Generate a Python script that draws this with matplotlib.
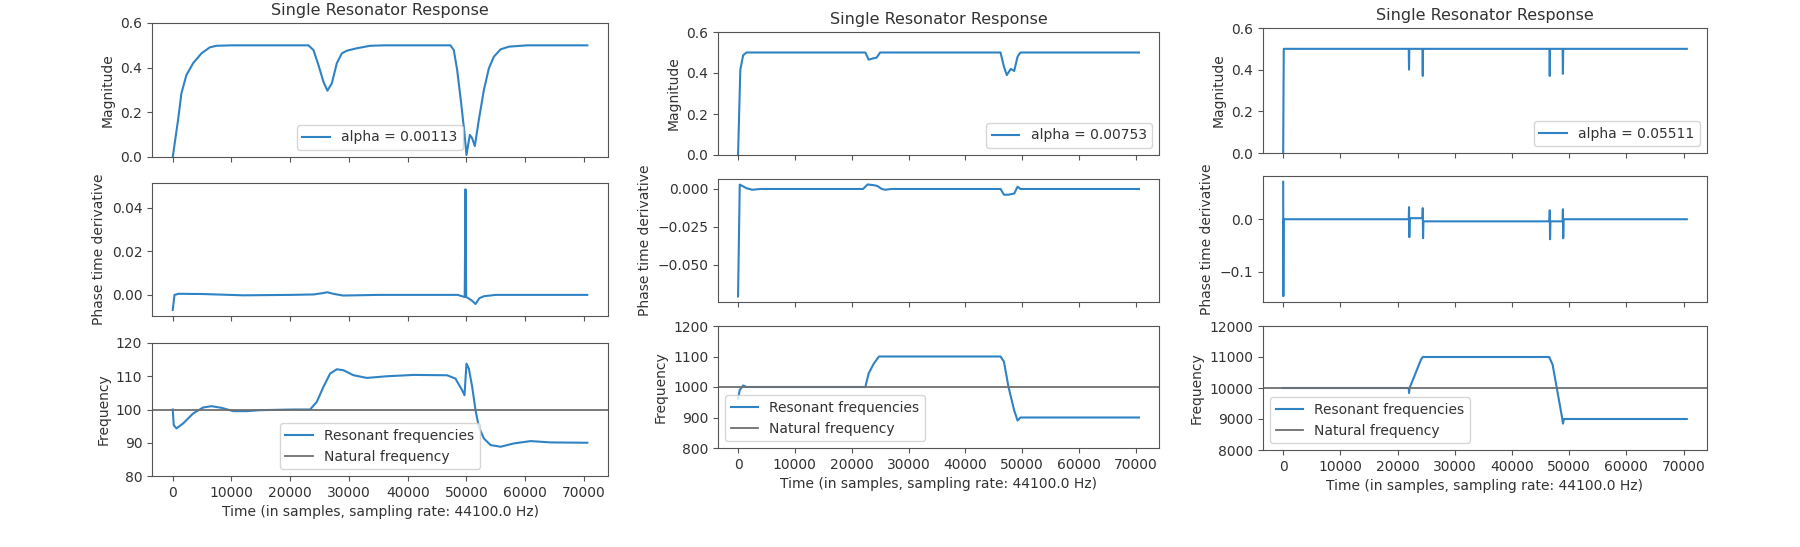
import matplotlib
matplotlib.use("Agg")
import matplotlib.pyplot as plt

W, H = 1800, 547
BLUE, GRAY, INK = "#2f83c4", "#707070", "#333333"
plt.rcParams.update({"font.family": "DejaVu Sans", "font.size": 10, "axes.edgecolor": "#555555",
                     "axes.linewidth": 0.8, "xtick.color": "#555555", "ytick.color": "#555555",
                     "xtick.labelcolor": INK, "ytick.labelcolor": INK, "text.color": INK,
                     "axes.labelcolor": INK, "axes.titlesize": 11.5})

N_SAMPLES = 70560
FS = 44100.0
ALPHAS = ["0.00113", "0.00753", "0.05511"]
NATURAL = [100, 1000, 10000]

# ---- column 1: alpha = 0.00113 ----
t_mag1 = [0, 910, 1480, 2330, 3470, 4890, 6310, 7450, 10000, 23100, 23950, 24800, 25650, 26330,
          27080, 27930, 28780, 29640, 31350, 33620, 36000, 47270, 47840, 48410, 49100, 49660, 50000,
          50570, 50970, 51420, 52100, 52960, 53810, 54660, 55800, 57220, 60360, 70560]
mag1 = [0.0, 0.166, 0.285, 0.367, 0.42, 0.464, 0.491, 0.498, 0.5, 0.5, 0.479, 0.412, 0.337, 0.297,
        0.33, 0.42, 0.464, 0.476, 0.487, 0.498, 0.5, 0.5, 0.479, 0.39, 0.24, 0.106, 0.009,
        0.099, 0.084, 0.049, 0.166, 0.30, 0.397, 0.449, 0.482, 0.494, 0.5, 0.5]
t_ph1 = [0, 300, 1000, 5000, 12000, 20000, 24000, 25500, 26300, 27500, 29000, 35000, 48500, 49700, 49830,
         49950, 50300, 51000, 51540, 52200, 53000, 55000, 70560]
ph1 = [-0.0069, 0.0, 0.0005, 0.0004, -0.0002, 0.0, 0.0002, 0.0008, 0.0012, 0.0004, -0.0003, 0.0, 0.0,
       -0.001, 0.0485, -0.001, -0.0015, -0.0028, -0.0042, -0.0015, -0.0006, 0.0, 0.0]
t_fr1 = [0, 170, 630, 1760, 3470, 5170, 6600, 8310, 10300, 12570, 14860, 20550, 23380, 24520, 25650,
         26790, 27930, 29060, 30770, 33050, 36460, 41000, 46700, 48120, 49260, 49660, 50000, 50400,
         50970, 51540, 52100, 52960, 54100, 55800, 58070, 60920, 64330, 70560]
fr1 = [100, 95.3, 94.3, 95.8, 98.8, 100.6, 101, 100.5, 99.5, 99.5, 99.8, 100, 100, 102.3, 106.8,
       110.8, 112.1, 111.8, 110.3, 109.5, 110, 110.4, 110.3, 109.3, 105.8, 104.3, 113.8, 112.3,
       106.8, 99.8, 94.8, 91.3, 89.3, 88.8, 89.8, 90.5, 90.1, 90]

# ---- column 2: alpha = 0.00753 ----
t_mag2 = [0, 400, 900, 1500, 22400, 23000, 23600, 24400, 25000, 46200, 46800, 47300, 48000, 48600,
          49200, 49700, 70560]
mag2 = [0.0, 0.416, 0.487, 0.5, 0.5, 0.465, 0.47, 0.475, 0.5, 0.5, 0.43, 0.39, 0.42, 0.41,
        0.48, 0.5, 0.5]
t_ph2 = [0, 300, 1500, 2500, 4000, 22000, 22800, 23900, 24500, 25300, 25900, 27000, 46200, 46800,
         47600, 48600, 49200, 49700, 70560]
ph2 = [-0.0711, 0.0029, 0.0005, -0.0005, 0.0, 0.0, 0.003, 0.0025, 0.002, 0.0, -0.0005, 0.0, 0.0, -0.0038,
       -0.0038, -0.003, 0.0015, 0.0, 0.0]
t_fr2 = [0, 300, 900, 1500, 22400, 23000, 23900, 24800, 46200, 46800, 47600, 48600, 49200, 49700, 70560]
fr2 = [962, 990, 1005, 1000, 1000, 1045, 1077, 1100, 1100, 1083, 1000, 923, 890, 900, 900]

# ---- column 3: alpha = 0.05511 ----
t_mag3 = [0, 100, 21950, 22000, 22050, 24350, 24400, 24450, 46550, 46600, 46650, 48850, 48900, 48950, 70560]
mag3 = [0.0, 0.5, 0.5, 0.40, 0.5, 0.5, 0.37, 0.5, 0.5, 0.37, 0.5, 0.5, 0.38, 0.5, 0.5]
t_ph3 = [0, 30, 80, 21950, 22000, 22050, 22120, 24350, 24400, 24450, 24520, 46550, 46600, 46650, 46720,
         48850, 48900, 48950, 49020, 70560]
ph3 = [0.071, -0.146, 0.0, 0.0, 0.023, -0.034, 0.002, 0.002, 0.021, -0.036, -0.004, -0.004, 0.017, -0.038,
       -0.004, -0.004, 0.019, -0.036, 0.0, 0.0]
t_fr3 = [0, 21950, 22000, 22100, 24100, 24400, 46500, 47100, 48800, 48900, 49100, 70560]
fr3 = [10000, 10000, 9837, 10000, 10920, 11000, 11000, 10750, 9000, 8850, 9000, 9000]

COLS = [(t_mag1, mag1, t_ph1, ph1, t_fr1, fr1), (t_mag2, mag2, t_ph2, ph2, t_fr2, fr2),
        (t_mag3, mag3, t_ph3, ph3, t_fr3, fr3)]

# axes boxes in pixels: x0, x1 and (top, bottom) of the three rows
BOXES = [(152, 608, [(23, 157), (183, 316), (343, 476)]),
         (718, 1159, [(32, 155), (179, 302), (326, 448)]),
         (1263, 1707, [(28, 153), (176, 302), (326, 450)])]
PH_LIM = [(-0.0097, 0.0514), (-0.0748, 0.0066), (-0.157, 0.082)]
PH_TICKS = [[0.0, 0.02, 0.04], [-0.05, -0.025, 0.0], [-0.1, 0.0]]
MAG_LEG = ["lower center", "lower right", "lower right"]
FR_LEG = ["lower center", "lower left", "lower left"]

fig = plt.figure(figsize=(W / 100, H / 100), dpi=100)
for c, (tm, m, tp, p, tf, f) in enumerate(COLS):
    x0, x1, rows = BOXES[c]
    axs = []
    for r, (y0, y1) in enumerate(rows):
        ax = fig.add_axes([x0 / W, 1 - y1 / H, (x1 - x0) / W, (y1 - y0) / H])
        if axs:
            ax.sharex(axs[0])
        axs.append(ax)
    a_m, a_p, a_f = axs
    a_m.plot(tm, m, color=BLUE, lw=1.5, label=f"alpha = {ALPHAS[c]}")
    a_m.set_ylim(0, 0.6); a_m.set_yticks([0, 0.2, 0.4, 0.6])
    a_m.set_ylabel("Magnitude"); a_m.set_title("Single Resonator Response")
    a_m.legend(loc=MAG_LEG[c])
    a_p.plot(tp, p, color=BLUE, lw=1.5)
    a_p.set_ylim(*PH_LIM[c]); a_p.set_yticks(PH_TICKS[c])
    a_p.set_ylabel("Phase time derivative")
    a_f.plot(tf, f, color=BLUE, lw=1.5, label="Resonant frequencies")
    a_f.axhline(NATURAL[c], color=GRAY, lw=1.3, label="Natural frequency")
    nf = NATURAL[c]
    a_f.set_ylim(0.8 * nf, 1.2 * nf)
    a_f.set_yticks([nf * k / 10 for k in range(8, 13)])
    a_f.set_ylabel("Frequency")
    a_f.legend(loc=FR_LEG[c])
    a_f.set_xlim(-0.05 * N_SAMPLES, 1.05 * N_SAMPLES)
    a_f.set_xticks(range(0, 70001, 10000))
    a_f.set_xlabel(f"Time (in samples, sampling rate: {FS} Hz)")
    for ax in (a_m, a_p):
        ax.tick_params(labelbottom=False)

fig.savefig("out.png", dpi=100)
